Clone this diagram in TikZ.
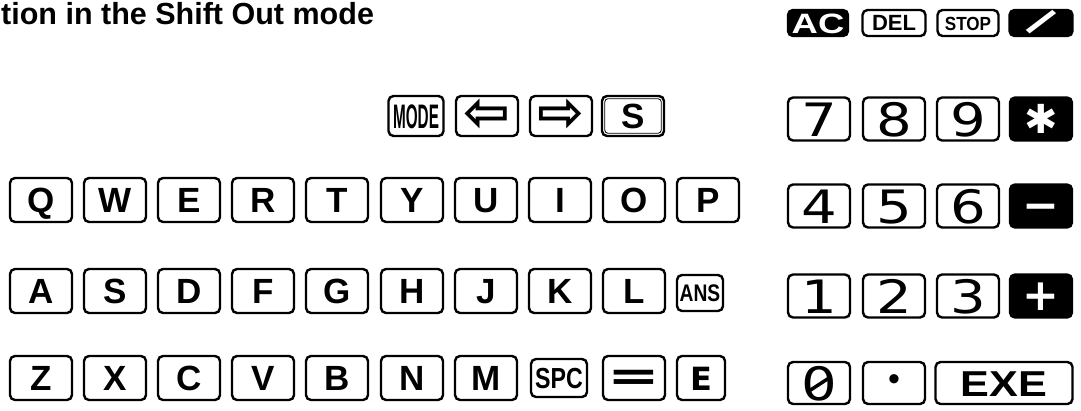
\documentclass[tikz,border=0pt]{standalone}
\usepackage{fontspec}
\usepackage{graphicx}
\setmainfont{Liberation Sans}
\newfontfamily\symfont{DejaVu Sans}
\newcommand{\fsz}[1]{\fontsize{#1}{#1}\selectfont}
\newcommand{\digit}[1]{\scalebox{1.22}[1]{#1}}

\tikzset{
  keybox/.style={draw,line width=2.4pt,rounded corners=5pt,inner sep=0pt,
    minimum width=62pt,minimum height=44pt,text height=25pt,text depth=0pt,
    font=\fsz{35}\bfseries},
  numkey/.style={keybox,minimum height=43pt,text height=34pt,font=\symfont\fsz{46}},
  topkey/.style={keybox,minimum height=26pt,text height=13pt},
  blackkey/.style={fill=black,text=white},
}

\begin{document}
\begin{tikzpicture}[x=1pt,y=-1pt]
\useasboundingbox (0,0) rectangle (1081,410);
\node[anchor=base west,inner sep=0pt,font=\fsz{30.5}\bfseries] (title) at (1,24) {tion in the Shift Out mode};
% top row
\node[topkey,blackkey,minimum width=60pt,text height=20pt,font=\fsz{28}\bfseries] (AC) at (818,23) {\scalebox{1.3}[1]{AC}};
\node[topkey,minimum width=63pt,text height=15pt,font=\fsz{22}\bfseries] (DEL) at (894,23) {DEL};
\node[topkey,minimum width=61pt,text height=14pt,font=\fsz{19}\bfseries] (STOP) at (968,23) {\scalebox{0.9}[1]{STOP}};
\node[topkey,blackkey,minimum width=63pt,text height=12pt,font=\fsz{44}\bfseries] (slash) at (1041,23) {\rotatebox{-42}{/}};
% mode and cursor keys
\node[keybox,minimum width=55pt,minimum height=40pt,text height=24pt,font=\fsz{34}\bfseries] (MODE) at (416,116) {\scalebox{0.45}[1]{MODE}};
\node[keybox,minimum height=40pt,text height=30pt,font=\symfont\bfseries\fsz{56}] (left) at (487,116) {⇦};
\node[keybox,minimum height=40pt,text height=30pt,font=\symfont\bfseries\fsz{56}] (right) at (561,116) {⇨};
\node[keybox,minimum height=40pt] (Sshift) at (633,116) {S};
\draw[line width=0.8pt,rounded corners=3pt] ([shift={(4,4)}]Sshift.north west) rectangle ([shift={(-4,-4)}]Sshift.south east);
% ten keys
\node[numkey] (n7) at (819,119) {\digit{7}};
\node[numkey] (n8) at (894,119) {\digit{8}};
\node[numkey] (n9) at (968,119) {\digit{9}};
\node[numkey,blackkey,text height=28pt,font=\symfont\bfseries\fsz{40}] (times) at (1041,119) {✱};
\node[numkey] (n4) at (819,206) {\digit{4}};
\node[numkey] (n5) at (894,206) {\digit{5}};
\node[numkey] (n6) at (968,206) {\digit{6}};
\node[numkey,blackkey,text height=28pt,font=\symfont\bfseries\fsz{44}] (minus) at (1041,206) {−};
\node[numkey] (n1) at (819,296) {\digit{1}};
\node[numkey] (n2) at (894,296) {\digit{2}};
\node[numkey] (n3) at (968,296) {\digit{3}};
\node[numkey,blackkey,text height=28pt,font=\symfont\bfseries\fsz{44}] (plus) at (1041,296) {+};
\node[numkey,minimum height=42pt] (n0) at (819,383) {\digit{0}};
\draw[line width=3.5pt] ([shift={(-10,8)}]n0.center) -- ([shift={(10,-5)}]n0.center);
\node[numkey,minimum height=42pt,text height=14pt,font=\fsz{34}] (point) at (894,383) {•};
\node[keybox,minimum width=137pt,minimum height=42pt,text height=26pt,font=\fsz{36}\bfseries] (EXE) at (1004,383) {\scalebox{1.2}[1]{EXE}};
% letters
\node[keybox] (Q) at (41,200) {Q};
\node[keybox] (W) at (115,200) {W};
\node[keybox] (E) at (189,200) {E};
\node[keybox] (R) at (263,200) {R};
\node[keybox] (T) at (337,200) {T};
\node[keybox] (Y) at (412,200) {Y};
\node[keybox] (U) at (486,200) {U};
\node[keybox] (I) at (560,200) {I};
\node[keybox] (O) at (634,200) {O};
\node[keybox] (P) at (708,200) {P};
\node[keybox] (A) at (41,291) {A};
\node[keybox] (S) at (115,291) {S};
\node[keybox] (D) at (189,291) {D};
\node[keybox] (F) at (263,291) {F};
\node[keybox] (G) at (337,291) {G};
\node[keybox] (H) at (412,291) {H};
\node[keybox] (J) at (486,291) {J};
\node[keybox] (K) at (560,291) {K};
\node[keybox] (L) at (634,291) {L};
\node[keybox,minimum width=46pt,minimum height=36pt,text height=17pt,font=\fsz{24}\bfseries] (ANS) at (700,293) {\scalebox{0.8}[1]{ANS}};
\node[keybox] (Z) at (41,378) {Z};
\node[keybox] (X) at (115,378) {X};
\node[keybox] (C) at (189,378) {C};
\node[keybox] (V) at (263,378) {V};
\node[keybox] (B) at (337,378) {B};
\node[keybox] (N) at (412,378) {N};
\node[keybox] (M) at (486,378) {M};
\node[keybox,minimum width=56pt,minimum height=38pt,text height=21pt,font=\fsz{29}\bfseries] (SPC) at (559,378) {\scalebox{0.8}[1]{SPC}};
\node[keybox,text height=24pt,font=\symfont\bfseries\fsz{42}] (equals) at (634,378) {\scalebox{1.5}[1]{=}};
\node[keybox,minimum width=48pt,font=\symfont\bfseries\fsz{32}] (Exp) at (701,378) {E};
\end{tikzpicture}
\end{document}
